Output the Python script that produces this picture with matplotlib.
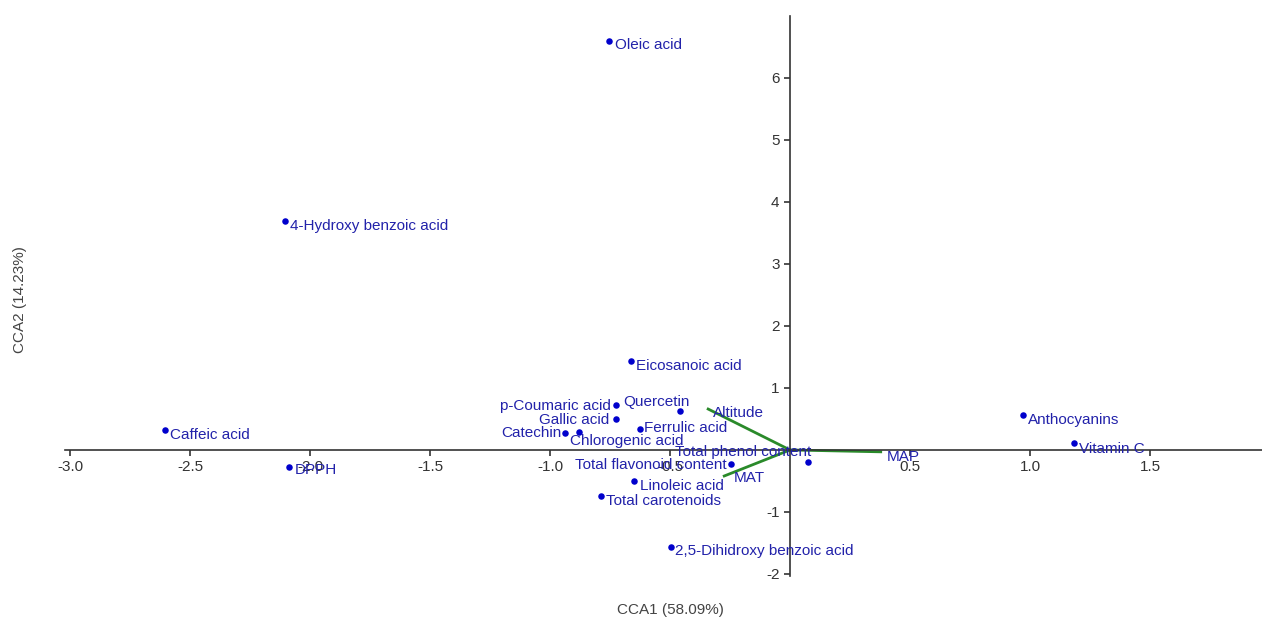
import matplotlib.pyplot as plt

plt.rcParams['font.family'] = ['Liberation Sans', 'DejaVu Sans']

# species / variables scores
names = ['Oleic acid', '4-Hydroxy benzoic acid', 'Caffeic acid', 'DPPH', 'Eicosanoic acid',
         'p-Coumaric acid', 'Quercetin', 'Gallic acid', 'Ferrulic acid', 'Catechin',
         'Chlorogenic acid', 'Total flavonoid content', 'Total phenol content', 'Linoleic acid',
         'Total carotenoids', '2,5-Dihidroxy benzoic acid', 'Anthocyanins', 'Vitamin C']
cca1 = [-0.756, -2.106, -2.605, -2.086, -0.661, -0.723, -0.457, -0.723, -0.623, -0.939,
        -0.881, -0.245, 0.075, -0.652, -0.789, -0.494, 0.972, 1.184]
cca2 = [6.60, 3.69, 0.32, -0.27, 1.43, 0.72, 0.63, 0.50, 0.34, 0.27,
        0.29, -0.22, -0.19, -0.50, -0.74, -1.57, 0.56, 0.11]

# environmental vectors
env_names = ['Altitude', 'MAP', 'MAT']
env_x = [-0.341, 0.378, -0.274]
env_y = [0.66, -0.03, -0.42]

# label placement (pixel offsets, alignment)
lab_pos = {
    'Oleic acid': (6, -4, 'left'),
    '4-Hydroxy benzoic acid': (5, -5, 'left'),
    'Caffeic acid': (5, -5, 'left'),
    'DPPH': (5, -3, 'left'),
    'Eicosanoic acid': (5, -5, 'left'),
    'p-Coumaric acid': (-6, -1, 'right'),
    'Quercetin': (-57, 9, 'left'),
    'Gallic acid': (-7, -1, 'right'),
    'Ferrulic acid': (4, 1, 'left'),
    'Catechin': (-3, 0, 'right'),
    'Chlorogenic acid': (-9, -9, 'left'),
    'Total flavonoid content': (-5, -1, 'right'),
    'Total phenol content': (3, 10, 'right'),
    'Linoleic acid': (6, -5, 'left'),
    'Total carotenoids': (5, -5, 'left'),
    '2,5-Dihidroxy benzoic acid': (4, -4, 'left'),
    'Anthocyanins': (5, -5, 'left'),
    'Vitamin C': (5, -6, 'left'),
}
env_pos = {'Altitude': (5, -4), 'MAP': (6, -5), 'MAT': (10, -2)}

txt_col = '#2222aa'
fs = 11

fig = plt.figure(figsize=(12.62, 6.18), dpi=100)
ax = fig.add_axes([65.2 / 1262, (618 - 575.8) / 618, 1197.6 / 1262, (575.8 - 16) / 618])

for ex, ey in zip(env_x, env_y):
    ax.plot([0, ex], [0, ey], color='#2a8a2a', lw=2, zorder=2)
for n, ex, ey in zip(env_names, env_x, env_y):
    dx, dy = env_pos[n]
    ax.annotate(n, (ex, ey), xytext=(dx, dy), textcoords='offset pixels',
                ha='left', va='center', fontsize=fs, color=txt_col, zorder=4)

ax.scatter(cca1, cca2, s=22, color='#0000cc', zorder=3, linewidths=0)
for n, x, y in zip(names, cca1, cca2):
    dx, dy, ha = lab_pos[n]
    ax.annotate(n, (x, y), xytext=(dx, dy), textcoords='offset pixels',
                ha=ha, va='center', fontsize=fs, color=txt_col, zorder=4)

ax.set_xlim(-3.02, 1.97)
ax.set_ylim(-2.03, 7.0)
ax.spines['left'].set_position(('data', 0))
ax.spines['bottom'].set_position(('data', 0))
ax.spines['top'].set_visible(False)
ax.spines['right'].set_visible(False)
for s in ['left', 'bottom']:
    ax.spines[s].set_color('#333333')
    ax.spines[s].set_linewidth(1.2)

ax.set_xticks([-3.0, -2.5, -2.0, -1.5, -1.0, -0.5, 0.5, 1.0, 1.5])
ax.set_xticklabels(['-3.0', '-2.5', '-2.0', '-1.5', '-1.0', '-0.5', '0.5', '1.0', '1.5'])
ax.set_yticks([-2, -1, 1, 2, 3, 4, 5, 6])
ax.set_yticklabels(['-2', '-1', '1', '2', '3', '4', '5', '6'])
ax.tick_params(labelsize=fs, colors='#333333', length=4, width=1.2)
ax.patch.set_visible(False)

fig.text(670 / 1262, 1 - 610 / 618, 'CCA1 (58.09%)', ha='center', va='center',
         fontsize=fs, color='#444444')
fig.text(20 / 1262, 1 - 300 / 618, 'CCA2 (14.23%)', ha='center', va='center',
         rotation=90, fontsize=fs, color='#444444')

fig.savefig('out.png', dpi=100)
